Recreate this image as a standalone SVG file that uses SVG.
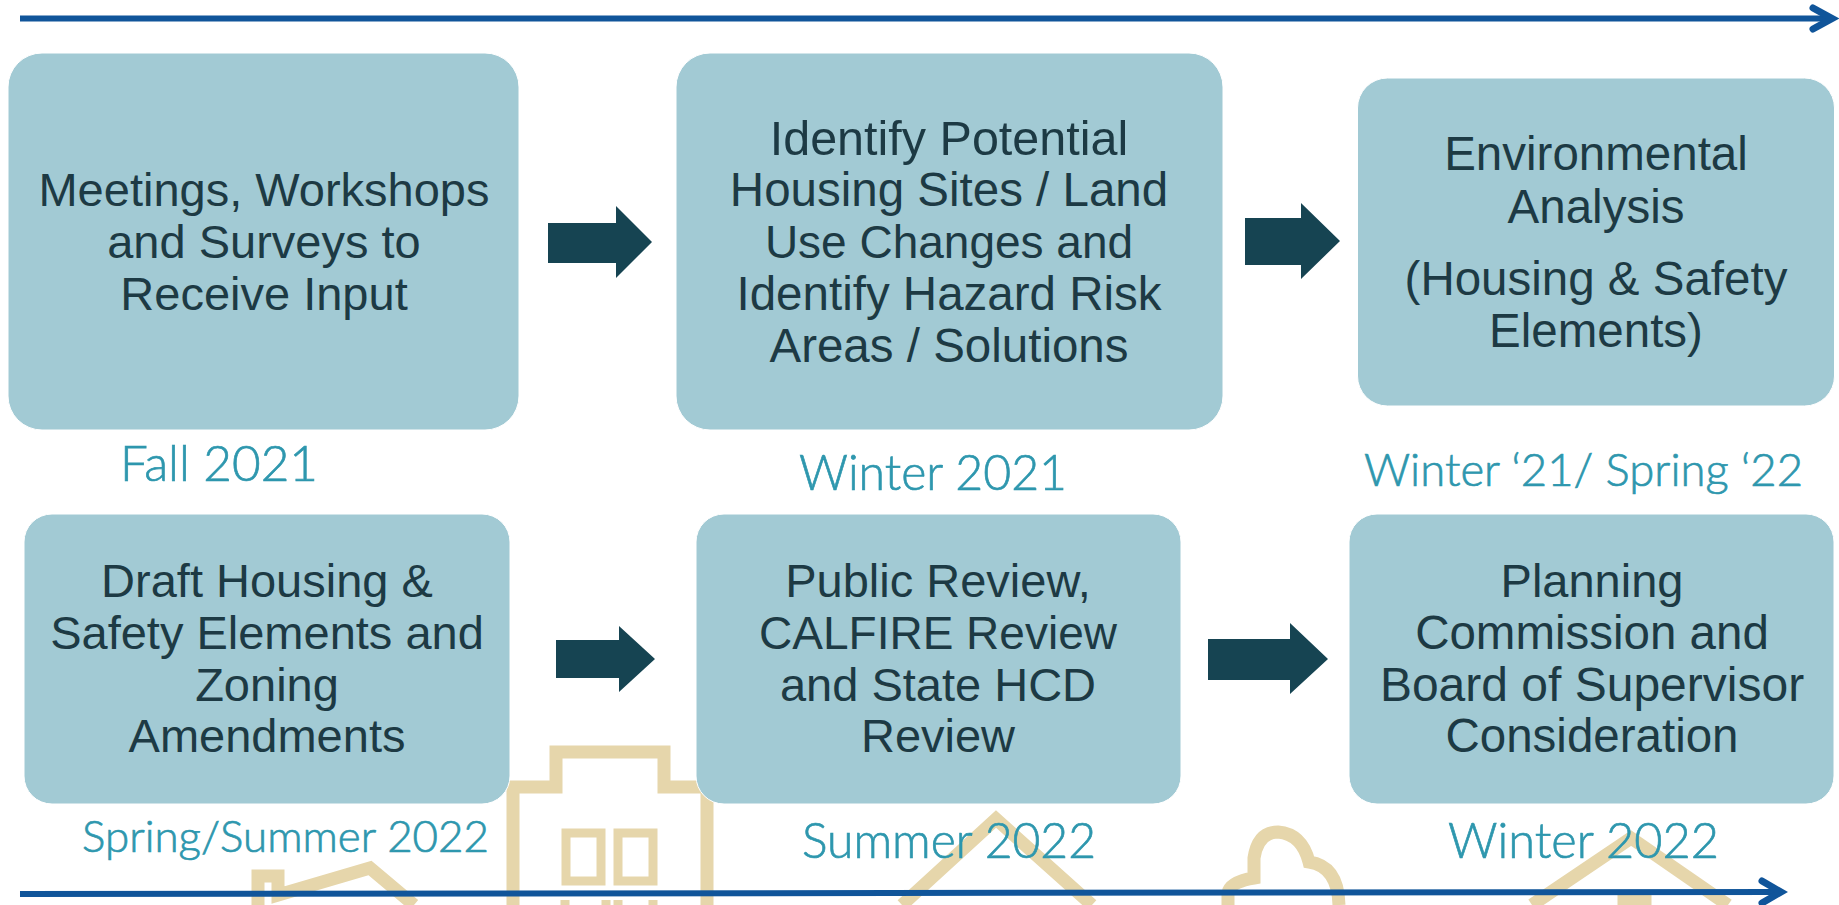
<svg xmlns="http://www.w3.org/2000/svg" width="1839" height="905" viewBox="0 0 1839 905">
<style>
.box{fill:#a2cad4;stroke:#fff;stroke-width:1}
.t{font-family:"Liberation Sans",Arial,sans-serif;font-size:47.500px;fill:#1d3a44;text-anchor:middle}
.d{font-family:Lato,"Open Sans",sans-serif;font-weight:300;fill:#2e97ae;stroke:#2e97ae;stroke-width:.7}
.art{fill:none;stroke:#e6d6ab;stroke-width:13;stroke-linejoin:miter}
.blk{fill:#164452}
.line{stroke:#10559a;stroke-width:6;fill:none}
.head{stroke:#10559a;stroke-width:7;fill:none;stroke-linecap:round;stroke-linejoin:miter}
</style>
<rect width="1839" height="905" fill="#fff"/>
<g id="background-art">
<path class="art" d="M513,905V787H556V752H664V787H707V905"/>
<rect class="art" x="566" y="833" width="35" height="48" style="stroke-width:9"/>
<rect class="art" x="618" y="833" width="35" height="48" style="stroke-width:9"/>
<path class="art" d="M565,905V900M606,905V900M618,905V900M653,905V900" style="stroke-width:9"/>
<path class="art" d="M258,905V876H278V895L370,868L414,905"/>
<path class="art" d="M902,905L996,819L1092,905"/>
<path class="art" d="M1228,905V893Q1230,882 1254,878V858Q1258,832 1278,832Q1302,834 1309,862Q1338,866 1339,905"/>
<path class="art" d="M1532,905L1631,838L1728,905"/>
<path class="art" d="M1624,905V899H1645V905"/>
</g>
<g id="connectors">
<g id="timeline-top"><path class="line" d="M20,18.500H1830"/><path class="head" d="M1813,8L1832,18.500L1813,29"/></g>
<g id="timeline-bottom"><path class="line" d="M20,894L1780,892"/><path class="head" d="M1762,881L1781,892L1762,903"/></g>
<polygon class="blk" points="548,223 616,223 616,206 652,242 616,278 616,263 548,263"/>
<polygon class="blk" points="1245,218 1301,218 1301,203 1340,241 1301,279 1301,265 1245,265"/>
<polygon class="blk" points="556,640 619,640 619,626 655,659 619,692 619,678 556,678"/>
<polygon class="blk" points="1208,639 1290,639 1290,623 1328,659 1290,694 1290,680 1208,680"/>
</g>
<g id="node-1"><rect class="box" x="8" y="53" width="511" height="377" rx="34"/>
<text class="t" x="264" y="206" style="font-size:47px">Meetings, Workshops</text><text class="t" x="264" y="258" style="font-size:47px">and Surveys to</text><text class="t" x="264" y="310" style="font-size:47px">Receive Input</text></g>
<g id="node-2"><rect class="box" x="676" y="53" width="547" height="377" rx="34"/>
<text class="t" x="949" y="155" style="font-size:48.500px">Identify Potential</text><text class="t" x="949" y="206" style="font-size:47.500px">Housing Sites / Land</text><text class="t" x="949" y="258" style="font-size:46px">Use Changes and</text><text class="t" x="949" y="310" style="font-size:47.500px">Identify Hazard Risk</text><text class="t" x="949" y="362" style="font-size:47.500px">Areas / Solutions</text></g>
<g id="node-3"><rect class="box" x="1357.500" y="78" width="477" height="328" rx="30"/>
<text class="t" x="1596" y="170">Environmental</text><text class="t" x="1596" y="223">Analysis</text><text class="t" x="1596" y="295">(Housing &amp; Safety</text><text class="t" x="1596" y="347">Elements)</text></g>
<g id="node-4"><rect class="box" x="24" y="514" width="486" height="290" rx="28"/>
<text class="t" x="267" y="597" style="font-size:47px">Draft Housing &amp;</text><text class="t" x="267" y="649" style="font-size:47px">Safety Elements and</text><text class="t" x="267" y="701" style="font-size:47px">Zoning</text><text class="t" x="267" y="752" style="font-size:47px">Amendments</text></g>
<g id="node-5"><rect class="box" x="696" y="514" width="485" height="290" rx="28"/>
<text class="t" x="938" y="597" style="font-size:47px">Public Review,</text><text class="t" x="938" y="649" style="font-size:46px">CALFIRE Review</text><text class="t" x="938" y="701" style="font-size:47px">and State HCD</text><text class="t" x="938" y="752" style="font-size:47px">Review</text></g>
<g id="node-6"><rect class="box" x="1349" y="514" width="485" height="290" rx="28"/>
<text class="t" x="1592" y="597" style="font-size:47px">Planning</text><text class="t" x="1592" y="649">Commission and</text><text class="t" x="1592" y="701" style="font-size:48px">Board of Supervisor</text><text class="t" x="1592" y="752">Consideration</text></g>
<g id="dates">
<text class="d" x="120" y="481" font-size="50" textLength="198" lengthAdjust="spacingAndGlyphs">Fall 2021</text>
<text class="d" x="799" y="490" font-size="50" textLength="268" lengthAdjust="spacingAndGlyphs">Winter 2021</text>
<text class="d" x="1364" y="486" font-size="46" textLength="439" lengthAdjust="spacingAndGlyphs">Winter ‘21/ Spring ‘22</text>
<text class="d" x="82" y="852" font-size="43" textLength="407" lengthAdjust="spacingAndGlyphs">Spring/Summer 2022</text>
<text class="d" x="802" y="858" font-size="50" textLength="294" lengthAdjust="spacingAndGlyphs">Summer 2022</text>
<text class="d" x="1448" y="858" font-size="50" textLength="271" lengthAdjust="spacingAndGlyphs">Winter 2022</text>
</g>
</svg>
